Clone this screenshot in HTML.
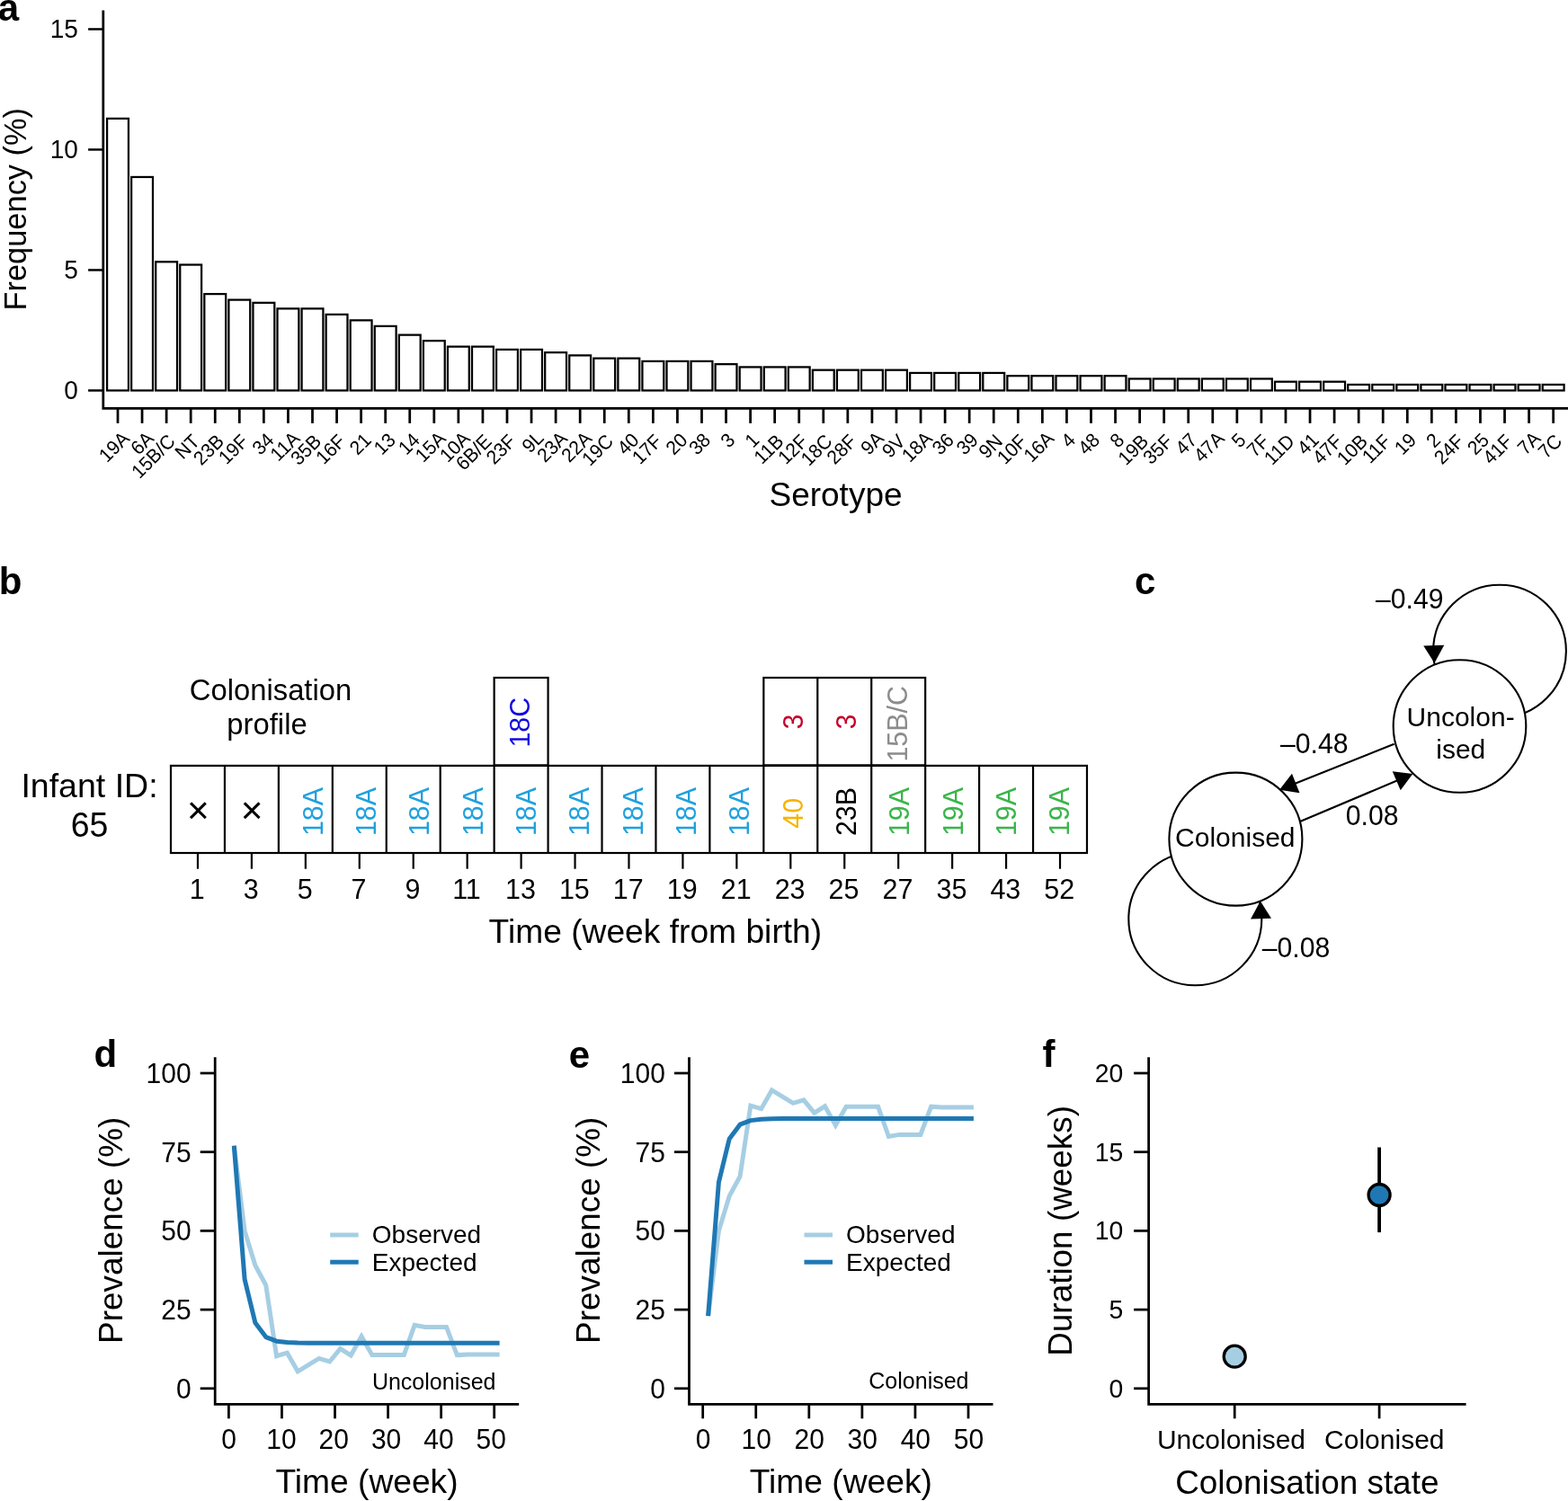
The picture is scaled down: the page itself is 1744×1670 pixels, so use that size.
<!DOCTYPE html>
<html lang="en"><head><meta charset="utf-8"><title>Pneumococcal colonisation figure</title>
<style>html,body{margin:0;padding:0;background:#fff}body{width:1744px;height:1670px;overflow:hidden}svg{display:block}text{font-family:'Liberation Sans', sans-serif}</style>
</head><body>
<svg width="1744" height="1670" viewBox="0 0 1744 1670" font-family='"Liberation Sans", sans-serif'>
<rect width="1744" height="1670" fill="#fff"/>
<g id="panel-a">
<text x="-2.30" y="23.20" font-size="42" text-anchor="start" font-weight="bold">a</text>
<g fill="#fff" stroke="#000" stroke-width="2.25" stroke-linejoin="miter">
<rect x="119.08" y="131.90" width="23.85" height="302.55"/>
<rect x="146.14" y="196.96" width="23.85" height="237.49"/>
<rect x="173.20" y="291.31" width="23.85" height="143.14"/>
<rect x="200.26" y="294.56" width="23.85" height="139.89"/>
<rect x="227.32" y="327.09" width="23.85" height="107.36"/>
<rect x="254.38" y="333.60" width="23.85" height="100.85"/>
<rect x="281.45" y="336.85" width="23.85" height="97.60"/>
<rect x="308.51" y="343.36" width="23.85" height="91.09"/>
<rect x="335.57" y="343.36" width="23.85" height="91.09"/>
<rect x="362.63" y="349.87" width="23.85" height="84.58"/>
<rect x="389.69" y="356.37" width="23.85" height="78.08"/>
<rect x="416.76" y="362.88" width="23.85" height="71.57"/>
<rect x="443.82" y="372.64" width="23.85" height="61.81"/>
<rect x="470.88" y="379.15" width="23.85" height="55.30"/>
<rect x="497.94" y="385.65" width="23.85" height="48.80"/>
<rect x="525.01" y="385.65" width="23.85" height="48.80"/>
<rect x="552.07" y="388.90" width="23.85" height="45.55"/>
<rect x="579.13" y="388.90" width="23.85" height="45.55"/>
<rect x="606.19" y="392.16" width="23.85" height="42.29"/>
<rect x="633.25" y="395.41" width="23.85" height="39.04"/>
<rect x="660.32" y="398.66" width="23.85" height="35.79"/>
<rect x="687.38" y="398.66" width="23.85" height="35.79"/>
<rect x="714.44" y="401.92" width="23.85" height="32.53"/>
<rect x="741.50" y="401.92" width="23.85" height="32.53"/>
<rect x="768.56" y="401.92" width="23.85" height="32.53"/>
<rect x="795.63" y="405.17" width="23.85" height="29.28"/>
<rect x="822.69" y="408.42" width="23.85" height="26.03"/>
<rect x="849.75" y="408.42" width="23.85" height="26.03"/>
<rect x="876.81" y="408.42" width="23.85" height="26.03"/>
<rect x="903.87" y="411.68" width="23.85" height="22.77"/>
<rect x="930.94" y="411.68" width="23.85" height="22.77"/>
<rect x="958.00" y="411.68" width="23.85" height="22.77"/>
<rect x="985.06" y="411.68" width="23.85" height="22.77"/>
<rect x="1012.12" y="414.93" width="23.85" height="19.52"/>
<rect x="1039.18" y="414.93" width="23.85" height="19.52"/>
<rect x="1066.25" y="414.93" width="23.85" height="19.52"/>
<rect x="1093.31" y="414.93" width="23.85" height="19.52"/>
<rect x="1120.37" y="418.18" width="23.85" height="16.27"/>
<rect x="1147.43" y="418.18" width="23.85" height="16.27"/>
<rect x="1174.49" y="418.18" width="23.85" height="16.27"/>
<rect x="1201.56" y="418.18" width="23.85" height="16.27"/>
<rect x="1228.62" y="418.18" width="23.85" height="16.27"/>
<rect x="1255.68" y="421.44" width="23.85" height="13.01"/>
<rect x="1282.74" y="421.44" width="23.85" height="13.01"/>
<rect x="1309.80" y="421.44" width="23.85" height="13.01"/>
<rect x="1336.87" y="421.44" width="23.85" height="13.01"/>
<rect x="1363.93" y="421.44" width="23.85" height="13.01"/>
<rect x="1390.99" y="421.44" width="23.85" height="13.01"/>
<rect x="1418.05" y="424.69" width="23.85" height="9.76"/>
<rect x="1445.11" y="424.69" width="23.85" height="9.76"/>
<rect x="1472.18" y="424.69" width="23.85" height="9.76"/>
<rect x="1499.24" y="427.94" width="23.85" height="6.51"/>
<rect x="1526.30" y="427.94" width="23.85" height="6.51"/>
<rect x="1553.36" y="427.94" width="23.85" height="6.51"/>
<rect x="1580.42" y="427.94" width="23.85" height="6.51"/>
<rect x="1607.49" y="427.94" width="23.85" height="6.51"/>
<rect x="1634.55" y="427.94" width="23.85" height="6.51"/>
<rect x="1661.61" y="427.94" width="23.85" height="6.51"/>
<rect x="1688.67" y="427.94" width="23.85" height="6.51"/>
<rect x="1715.73" y="427.94" width="23.85" height="6.51"/>
</g>
<polyline points="114.8,11.4 114.8,454.4 1744,454.4" fill="none" stroke="#000" stroke-width="2.75" stroke-linejoin="miter"/>
<line x1="98.10" y1="434.45" x2="114.80" y2="434.45" stroke="#000" stroke-width="2.45" />
<text x="0" y="0" font-size="28" text-anchor="end" transform="translate(86.80,444.45) scale(1,1.04)">0</text>
<line x1="98.10" y1="300.45" x2="114.80" y2="300.45" stroke="#000" stroke-width="2.45" />
<text x="0" y="0" font-size="28" text-anchor="end" transform="translate(86.80,310.45) scale(1,1.04)">5</text>
<line x1="98.10" y1="166.45" x2="114.80" y2="166.45" stroke="#000" stroke-width="2.45" />
<text x="0" y="0" font-size="28" text-anchor="end" transform="translate(86.80,176.45) scale(1,1.04)">10</text>
<line x1="98.10" y1="32.45" x2="114.80" y2="32.45" stroke="#000" stroke-width="2.45" />
<text x="0" y="0" font-size="28" text-anchor="end" transform="translate(86.80,42.45) scale(1,1.04)">15</text>
<line x1="131.00" y1="454.40" x2="131.00" y2="470.90" stroke="#000" stroke-width="2.75" />
<text x="0" y="0" font-size="20.9" text-anchor="end" transform="translate(145.35,489.15) rotate(-45) scale(1,1.04)">19A</text>
<line x1="158.06" y1="454.40" x2="158.06" y2="470.90" stroke="#000" stroke-width="2.75" />
<text x="0" y="0" font-size="20.9" text-anchor="end" transform="translate(172.41,489.15) rotate(-45) scale(1,1.04)">6A</text>
<line x1="185.12" y1="454.40" x2="185.12" y2="470.90" stroke="#000" stroke-width="2.75" />
<text x="0" y="0" font-size="20.9" text-anchor="end" transform="translate(196.22,492.40) rotate(-45) scale(1,1.04)">15B/C</text>
<line x1="212.19" y1="454.40" x2="212.19" y2="470.90" stroke="#000" stroke-width="2.75" />
<text x="0" y="0" font-size="20.9" text-anchor="end" transform="translate(223.28,492.40) rotate(-45) scale(1,1.04)">NT</text>
<line x1="239.25" y1="454.40" x2="239.25" y2="470.90" stroke="#000" stroke-width="2.75" />
<text x="0" y="0" font-size="20.9" text-anchor="end" transform="translate(250.34,492.40) rotate(-45) scale(1,1.04)">23B</text>
<line x1="266.31" y1="454.40" x2="266.31" y2="470.90" stroke="#000" stroke-width="2.75" />
<text x="0" y="0" font-size="20.9" text-anchor="end" transform="translate(277.41,492.40) rotate(-45) scale(1,1.04)">19F</text>
<line x1="293.37" y1="454.40" x2="293.37" y2="470.90" stroke="#000" stroke-width="2.75" />
<text x="0" y="0" font-size="20.9" text-anchor="end" transform="translate(305.95,490.92) rotate(-45) scale(1,1.04)">34</text>
<line x1="320.43" y1="454.40" x2="320.43" y2="470.90" stroke="#000" stroke-width="2.75" />
<text x="0" y="0" font-size="20.9" text-anchor="end" transform="translate(334.78,489.15) rotate(-45) scale(1,1.04)">11A</text>
<line x1="347.50" y1="454.40" x2="347.50" y2="470.90" stroke="#000" stroke-width="2.75" />
<text x="0" y="0" font-size="20.9" text-anchor="end" transform="translate(358.59,492.40) rotate(-45) scale(1,1.04)">35B</text>
<line x1="374.56" y1="454.40" x2="374.56" y2="470.90" stroke="#000" stroke-width="2.75" />
<text x="0" y="0" font-size="20.9" text-anchor="end" transform="translate(385.65,492.40) rotate(-45) scale(1,1.04)">16F</text>
<line x1="401.62" y1="454.40" x2="401.62" y2="470.90" stroke="#000" stroke-width="2.75" />
<text x="0" y="0" font-size="20.9" text-anchor="end" transform="translate(414.20,490.92) rotate(-45) scale(1,1.04)">21</text>
<line x1="428.68" y1="454.40" x2="428.68" y2="470.90" stroke="#000" stroke-width="2.75" />
<text x="0" y="0" font-size="20.9" text-anchor="end" transform="translate(441.26,490.92) rotate(-45) scale(1,1.04)">13</text>
<line x1="455.74" y1="454.40" x2="455.74" y2="470.90" stroke="#000" stroke-width="2.75" />
<text x="0" y="0" font-size="20.9" text-anchor="end" transform="translate(468.32,490.92) rotate(-45) scale(1,1.04)">14</text>
<line x1="482.81" y1="454.40" x2="482.81" y2="470.90" stroke="#000" stroke-width="2.75" />
<text x="0" y="0" font-size="20.9" text-anchor="end" transform="translate(497.15,489.15) rotate(-45) scale(1,1.04)">15A</text>
<line x1="509.87" y1="454.40" x2="509.87" y2="470.90" stroke="#000" stroke-width="2.75" />
<text x="0" y="0" font-size="20.9" text-anchor="end" transform="translate(524.22,489.15) rotate(-45) scale(1,1.04)">10A</text>
<line x1="536.93" y1="454.40" x2="536.93" y2="470.90" stroke="#000" stroke-width="2.75" />
<text x="0" y="0" font-size="20.9" text-anchor="end" transform="translate(548.03,492.40) rotate(-45) scale(1,1.04)">6B/E</text>
<line x1="563.99" y1="454.40" x2="563.99" y2="470.90" stroke="#000" stroke-width="2.75" />
<text x="0" y="0" font-size="20.9" text-anchor="end" transform="translate(575.09,492.40) rotate(-45) scale(1,1.04)">23F</text>
<line x1="591.05" y1="454.40" x2="591.05" y2="470.90" stroke="#000" stroke-width="2.75" />
<text x="0" y="0" font-size="20.9" text-anchor="end" transform="translate(605.97,488.59) rotate(-45) scale(1,1.04)">9L</text>
<line x1="618.12" y1="454.40" x2="618.12" y2="470.90" stroke="#000" stroke-width="2.75" />
<text x="0" y="0" font-size="20.9" text-anchor="end" transform="translate(632.46,489.15) rotate(-45) scale(1,1.04)">23A</text>
<line x1="645.18" y1="454.40" x2="645.18" y2="470.90" stroke="#000" stroke-width="2.75" />
<text x="0" y="0" font-size="20.9" text-anchor="end" transform="translate(659.53,489.15) rotate(-45) scale(1,1.04)">22A</text>
<line x1="672.24" y1="454.40" x2="672.24" y2="470.90" stroke="#000" stroke-width="2.75" />
<text x="0" y="0" font-size="20.9" text-anchor="end" transform="translate(683.34,492.40) rotate(-45) scale(1,1.04)">19C</text>
<line x1="699.30" y1="454.40" x2="699.30" y2="470.90" stroke="#000" stroke-width="2.75" />
<text x="0" y="0" font-size="20.9" text-anchor="end" transform="translate(711.88,490.92) rotate(-45) scale(1,1.04)">40</text>
<line x1="726.36" y1="454.40" x2="726.36" y2="470.90" stroke="#000" stroke-width="2.75" />
<text x="0" y="0" font-size="20.9" text-anchor="end" transform="translate(737.46,492.40) rotate(-45) scale(1,1.04)">17F</text>
<line x1="753.43" y1="454.40" x2="753.43" y2="470.90" stroke="#000" stroke-width="2.75" />
<text x="0" y="0" font-size="20.9" text-anchor="end" transform="translate(766.01,490.92) rotate(-45) scale(1,1.04)">20</text>
<line x1="780.49" y1="454.40" x2="780.49" y2="470.90" stroke="#000" stroke-width="2.75" />
<text x="0" y="0" font-size="20.9" text-anchor="end" transform="translate(791.57,490.92) rotate(-45) scale(1,1.04)">38</text>
<line x1="807.55" y1="454.40" x2="807.55" y2="470.90" stroke="#000" stroke-width="2.75" />
<text x="0" y="0" font-size="20.9" text-anchor="end" transform="translate(818.63,490.92) rotate(-45) scale(1,1.04)">3</text>
<line x1="834.61" y1="454.40" x2="834.61" y2="470.90" stroke="#000" stroke-width="2.75" />
<text x="0" y="0" font-size="20.9" text-anchor="end" transform="translate(845.69,490.92) rotate(-45) scale(1,1.04)">1</text>
<line x1="861.67" y1="454.40" x2="861.67" y2="470.90" stroke="#000" stroke-width="2.75" />
<text x="0" y="0" font-size="20.9" text-anchor="end" transform="translate(872.77,492.40) rotate(-45) scale(1,1.04)">11B</text>
<line x1="888.74" y1="454.40" x2="888.74" y2="470.90" stroke="#000" stroke-width="2.75" />
<text x="0" y="0" font-size="20.9" text-anchor="end" transform="translate(899.83,492.40) rotate(-45) scale(1,1.04)">12F</text>
<line x1="915.80" y1="454.40" x2="915.80" y2="470.90" stroke="#000" stroke-width="2.75" />
<text x="0" y="0" font-size="20.9" text-anchor="end" transform="translate(926.89,492.40) rotate(-45) scale(1,1.04)">18C</text>
<line x1="942.86" y1="454.40" x2="942.86" y2="470.90" stroke="#000" stroke-width="2.75" />
<text x="0" y="0" font-size="20.9" text-anchor="end" transform="translate(953.96,492.40) rotate(-45) scale(1,1.04)">28F</text>
<line x1="969.92" y1="454.40" x2="969.92" y2="470.90" stroke="#000" stroke-width="2.75" />
<text x="0" y="0" font-size="20.9" text-anchor="end" transform="translate(984.27,489.15) rotate(-45) scale(1,1.04)">9A</text>
<line x1="996.98" y1="454.40" x2="996.98" y2="470.90" stroke="#000" stroke-width="2.75" />
<text x="0" y="0" font-size="20.9" text-anchor="end" transform="translate(1008.08,492.40) rotate(-45) scale(1,1.04)">9V</text>
<line x1="1024.05" y1="454.40" x2="1024.05" y2="470.90" stroke="#000" stroke-width="2.75" />
<text x="0" y="0" font-size="20.9" text-anchor="end" transform="translate(1038.39,489.15) rotate(-45) scale(1,1.04)">18A</text>
<line x1="1051.11" y1="454.40" x2="1051.11" y2="470.90" stroke="#000" stroke-width="2.75" />
<text x="0" y="0" font-size="20.9" text-anchor="end" transform="translate(1062.19,490.92) rotate(-45) scale(1,1.04)">36</text>
<line x1="1078.17" y1="454.40" x2="1078.17" y2="470.90" stroke="#000" stroke-width="2.75" />
<text x="0" y="0" font-size="20.9" text-anchor="end" transform="translate(1089.25,490.92) rotate(-45) scale(1,1.04)">39</text>
<line x1="1105.23" y1="454.40" x2="1105.23" y2="470.90" stroke="#000" stroke-width="2.75" />
<text x="0" y="0" font-size="20.9" text-anchor="end" transform="translate(1116.33,492.40) rotate(-45) scale(1,1.04)">9N</text>
<line x1="1132.29" y1="454.40" x2="1132.29" y2="470.90" stroke="#000" stroke-width="2.75" />
<text x="0" y="0" font-size="20.9" text-anchor="end" transform="translate(1143.39,492.40) rotate(-45) scale(1,1.04)">10F</text>
<line x1="1159.36" y1="454.40" x2="1159.36" y2="470.90" stroke="#000" stroke-width="2.75" />
<text x="0" y="0" font-size="20.9" text-anchor="end" transform="translate(1173.70,489.15) rotate(-45) scale(1,1.04)">16A</text>
<line x1="1186.42" y1="454.40" x2="1186.42" y2="470.90" stroke="#000" stroke-width="2.75" />
<text x="0" y="0" font-size="20.9" text-anchor="end" transform="translate(1197.50,490.92) rotate(-45) scale(1,1.04)">4</text>
<line x1="1213.48" y1="454.40" x2="1213.48" y2="470.90" stroke="#000" stroke-width="2.75" />
<text x="0" y="0" font-size="20.9" text-anchor="end" transform="translate(1224.56,490.92) rotate(-45) scale(1,1.04)">48</text>
<line x1="1240.54" y1="454.40" x2="1240.54" y2="470.90" stroke="#000" stroke-width="2.75" />
<text x="0" y="0" font-size="20.9" text-anchor="end" transform="translate(1251.62,490.92) rotate(-45) scale(1,1.04)">8</text>
<line x1="1267.60" y1="454.40" x2="1267.60" y2="470.90" stroke="#000" stroke-width="2.75" />
<text x="0" y="0" font-size="20.9" text-anchor="end" transform="translate(1278.70,492.40) rotate(-45) scale(1,1.04)">19B</text>
<line x1="1294.67" y1="454.40" x2="1294.67" y2="470.90" stroke="#000" stroke-width="2.75" />
<text x="0" y="0" font-size="20.9" text-anchor="end" transform="translate(1305.76,492.40) rotate(-45) scale(1,1.04)">35F</text>
<line x1="1321.73" y1="454.40" x2="1321.73" y2="470.90" stroke="#000" stroke-width="2.75" />
<text x="0" y="0" font-size="20.9" text-anchor="end" transform="translate(1332.81,490.92) rotate(-45) scale(1,1.04)">47</text>
<line x1="1348.79" y1="454.40" x2="1348.79" y2="470.90" stroke="#000" stroke-width="2.75" />
<text x="0" y="0" font-size="20.9" text-anchor="end" transform="translate(1363.14,489.15) rotate(-45) scale(1,1.04)">47A</text>
<line x1="1375.85" y1="454.40" x2="1375.85" y2="470.90" stroke="#000" stroke-width="2.75" />
<text x="0" y="0" font-size="20.9" text-anchor="end" transform="translate(1386.93,490.92) rotate(-45) scale(1,1.04)">5</text>
<line x1="1402.91" y1="454.40" x2="1402.91" y2="470.90" stroke="#000" stroke-width="2.75" />
<text x="0" y="0" font-size="20.9" text-anchor="end" transform="translate(1413.01,492.40) rotate(-45) scale(1,1.04)">7F</text>
<line x1="1429.98" y1="454.40" x2="1429.98" y2="470.90" stroke="#000" stroke-width="2.75" />
<text x="0" y="0" font-size="20.9" text-anchor="end" transform="translate(1441.07,492.40) rotate(-45) scale(1,1.04)">11D</text>
<line x1="1457.04" y1="454.40" x2="1457.04" y2="470.90" stroke="#000" stroke-width="2.75" />
<text x="0" y="0" font-size="20.9" text-anchor="end" transform="translate(1468.12,490.92) rotate(-45) scale(1,1.04)">41</text>
<line x1="1484.10" y1="454.40" x2="1484.10" y2="470.90" stroke="#000" stroke-width="2.75" />
<text x="0" y="0" font-size="20.9" text-anchor="end" transform="translate(1494.20,492.40) rotate(-45) scale(1,1.04)">47F</text>
<line x1="1511.16" y1="454.40" x2="1511.16" y2="470.90" stroke="#000" stroke-width="2.75" />
<text x="0" y="0" font-size="20.9" text-anchor="end" transform="translate(1522.26,492.40) rotate(-45) scale(1,1.04)">10B</text>
<line x1="1538.22" y1="454.40" x2="1538.22" y2="470.90" stroke="#000" stroke-width="2.75" />
<text x="0" y="0" font-size="20.9" text-anchor="end" transform="translate(1548.32,492.40) rotate(-45) scale(1,1.04)">11F</text>
<line x1="1565.29" y1="454.40" x2="1565.29" y2="470.90" stroke="#000" stroke-width="2.75" />
<text x="0" y="0" font-size="20.9" text-anchor="end" transform="translate(1576.37,490.92) rotate(-45) scale(1,1.04)">19</text>
<line x1="1592.35" y1="454.40" x2="1592.35" y2="470.90" stroke="#000" stroke-width="2.75" />
<text x="0" y="0" font-size="20.9" text-anchor="end" transform="translate(1603.43,490.92) rotate(-45) scale(1,1.04)">2</text>
<line x1="1619.41" y1="454.40" x2="1619.41" y2="470.90" stroke="#000" stroke-width="2.75" />
<text x="0" y="0" font-size="20.9" text-anchor="end" transform="translate(1629.51,492.40) rotate(-45) scale(1,1.04)">24F</text>
<line x1="1646.47" y1="454.40" x2="1646.47" y2="470.90" stroke="#000" stroke-width="2.75" />
<text x="0" y="0" font-size="20.9" text-anchor="end" transform="translate(1657.55,490.92) rotate(-45) scale(1,1.04)">25</text>
<line x1="1673.53" y1="454.40" x2="1673.53" y2="470.90" stroke="#000" stroke-width="2.75" />
<text x="0" y="0" font-size="20.9" text-anchor="end" transform="translate(1683.63,492.40) rotate(-45) scale(1,1.04)">41F</text>
<line x1="1700.60" y1="454.40" x2="1700.60" y2="470.90" stroke="#000" stroke-width="2.75" />
<text x="0" y="0" font-size="20.9" text-anchor="end" transform="translate(1714.94,489.15) rotate(-45) scale(1,1.04)">7A</text>
<line x1="1727.66" y1="454.40" x2="1727.66" y2="470.90" stroke="#000" stroke-width="2.75" />
<text x="0" y="0" font-size="20.9" text-anchor="end" transform="translate(1738.75,492.40) rotate(-45) scale(1,1.04)">7C</text>
<text x="0" y="0" font-size="34.4" text-anchor="middle" transform="translate(29.00,232.70) rotate(-90)">Frequency (%)</text>
<text x="929.50" y="562.70" font-size="37" text-anchor="middle">Serotype</text>
</g>
<g id="panel-b">
<text x="-1.30" y="660.80" font-size="42" text-anchor="start" font-weight="bold">b</text>
<g fill="none" stroke="#000" stroke-width="2.2">
<rect x="190.0" y="851.9" width="1018.98" height="97.10000000000002"/>
<line x1="249.94" y1="851.9" x2="249.94" y2="949.0"/>
<line x1="309.88" y1="851.9" x2="309.88" y2="949.0"/>
<line x1="369.82" y1="851.9" x2="369.82" y2="949.0"/>
<line x1="429.76" y1="851.9" x2="429.76" y2="949.0"/>
<line x1="489.7" y1="851.9" x2="489.7" y2="949.0"/>
<line x1="549.64" y1="851.9" x2="549.64" y2="949.0"/>
<line x1="609.5799999999999" y1="851.9" x2="609.5799999999999" y2="949.0"/>
<line x1="669.52" y1="851.9" x2="669.52" y2="949.0"/>
<line x1="729.46" y1="851.9" x2="729.46" y2="949.0"/>
<line x1="789.4" y1="851.9" x2="789.4" y2="949.0"/>
<line x1="849.3399999999999" y1="851.9" x2="849.3399999999999" y2="949.0"/>
<line x1="909.28" y1="851.9" x2="909.28" y2="949.0"/>
<line x1="969.22" y1="851.9" x2="969.22" y2="949.0"/>
<line x1="1029.1599999999999" y1="851.9" x2="1029.1599999999999" y2="949.0"/>
<line x1="1089.1" y1="851.9" x2="1089.1" y2="949.0"/>
<line x1="1149.04" y1="851.9" x2="1149.04" y2="949.0"/>
<rect x="549.64" y="754.0" width="59.94" height="97.39999999999998"/>
<rect x="849.3399999999999" y="754.0" width="179.82" height="97.39999999999998"/>
<line x1="909.28" y1="754.0" x2="909.28" y2="851.9"/>
<line x1="969.22" y1="754.0" x2="969.22" y2="851.9"/>
<line x1="219.97" y1="949.0" x2="219.97" y2="966.7"/>
<line x1="279.90999999999997" y1="949.0" x2="279.90999999999997" y2="966.7"/>
<line x1="339.85" y1="949.0" x2="339.85" y2="966.7"/>
<line x1="399.78999999999996" y1="949.0" x2="399.78999999999996" y2="966.7"/>
<line x1="459.73" y1="949.0" x2="459.73" y2="966.7"/>
<line x1="519.67" y1="949.0" x2="519.67" y2="966.7"/>
<line x1="579.61" y1="949.0" x2="579.61" y2="966.7"/>
<line x1="639.55" y1="949.0" x2="639.55" y2="966.7"/>
<line x1="699.49" y1="949.0" x2="699.49" y2="966.7"/>
<line x1="759.43" y1="949.0" x2="759.43" y2="966.7"/>
<line x1="819.37" y1="949.0" x2="819.37" y2="966.7"/>
<line x1="879.31" y1="949.0" x2="879.31" y2="966.7"/>
<line x1="939.25" y1="949.0" x2="939.25" y2="966.7"/>
<line x1="999.1899999999999" y1="949.0" x2="999.1899999999999" y2="966.7"/>
<line x1="1059.13" y1="949.0" x2="1059.13" y2="966.7"/>
<line x1="1119.07" y1="949.0" x2="1119.07" y2="966.7"/>
<line x1="1179.01" y1="949.0" x2="1179.01" y2="966.7"/>
</g>
<text x="0" y="0" font-size="30.5" text-anchor="middle" transform="translate(219.27,1000.20) scale(1,1.04)">1</text>
<text x="0" y="0" font-size="30.5" text-anchor="middle" transform="translate(279.21,1000.20) scale(1,1.04)">3</text>
<text x="0" y="0" font-size="30.5" text-anchor="middle" transform="translate(339.15,1000.20) scale(1,1.04)">5</text>
<text x="0" y="0" font-size="30.5" text-anchor="middle" transform="translate(399.09,1000.20) scale(1,1.04)">7</text>
<text x="0" y="0" font-size="30.5" text-anchor="middle" transform="translate(459.03,1000.20) scale(1,1.04)">9</text>
<text x="0" y="0" font-size="30.5" text-anchor="middle" transform="translate(518.97,1000.20) scale(1,1.04)">11</text>
<text x="0" y="0" font-size="30.5" text-anchor="middle" transform="translate(578.91,1000.20) scale(1,1.04)">13</text>
<text x="0" y="0" font-size="30.5" text-anchor="middle" transform="translate(638.85,1000.20) scale(1,1.04)">15</text>
<text x="0" y="0" font-size="30.5" text-anchor="middle" transform="translate(698.79,1000.20) scale(1,1.04)">17</text>
<text x="0" y="0" font-size="30.5" text-anchor="middle" transform="translate(758.73,1000.20) scale(1,1.04)">19</text>
<text x="0" y="0" font-size="30.5" text-anchor="middle" transform="translate(818.67,1000.20) scale(1,1.04)">21</text>
<text x="0" y="0" font-size="30.5" text-anchor="middle" transform="translate(878.61,1000.20) scale(1,1.04)">23</text>
<text x="0" y="0" font-size="30.5" text-anchor="middle" transform="translate(938.55,1000.20) scale(1,1.04)">25</text>
<text x="0" y="0" font-size="30.5" text-anchor="middle" transform="translate(998.49,1000.20) scale(1,1.04)">27</text>
<text x="0" y="0" font-size="30.5" text-anchor="middle" transform="translate(1058.43,1000.20) scale(1,1.04)">35</text>
<text x="0" y="0" font-size="30.5" text-anchor="middle" transform="translate(1118.37,1000.20) scale(1,1.04)">43</text>
<text x="0" y="0" font-size="30.5" text-anchor="middle" transform="translate(1178.31,1000.20) scale(1,1.04)">52</text>
<text x="220.27" y="916.35" font-size="42.4" text-anchor="middle">×</text>
<text x="280.21" y="916.35" font-size="42.4" text-anchor="middle">×</text>
<text x="0" y="0" font-size="30.4" text-anchor="middle" fill="#1fa1dd" transform="translate(358.61,903.05) rotate(-90) scale(1,1.04)">18A</text>
<text x="0" y="0" font-size="30.4" text-anchor="middle" fill="#1fa1dd" transform="translate(417.94,903.05) rotate(-90) scale(1,1.04)">18A</text>
<text x="0" y="0" font-size="30.4" text-anchor="middle" fill="#1fa1dd" transform="translate(477.27,903.05) rotate(-90) scale(1,1.04)">18A</text>
<text x="0" y="0" font-size="30.4" text-anchor="middle" fill="#1fa1dd" transform="translate(536.60,903.05) rotate(-90) scale(1,1.04)">18A</text>
<text x="0" y="0" font-size="30.4" text-anchor="middle" fill="#1fa1dd" transform="translate(595.93,903.05) rotate(-90) scale(1,1.04)">18A</text>
<text x="0" y="0" font-size="30.4" text-anchor="middle" fill="#1fa1dd" transform="translate(655.26,903.05) rotate(-90) scale(1,1.04)">18A</text>
<text x="0" y="0" font-size="30.4" text-anchor="middle" fill="#1fa1dd" transform="translate(714.59,903.05) rotate(-90) scale(1,1.04)">18A</text>
<text x="0" y="0" font-size="30.4" text-anchor="middle" fill="#1fa1dd" transform="translate(773.92,903.05) rotate(-90) scale(1,1.04)">18A</text>
<text x="0" y="0" font-size="30.4" text-anchor="middle" fill="#1fa1dd" transform="translate(833.25,903.05) rotate(-90) scale(1,1.04)">18A</text>
<text x="0" y="0" font-size="30.4" text-anchor="middle" fill="#f6b400" transform="translate(892.58,904.85) rotate(-90) scale(1,1.04)">40</text>
<text x="0" y="0" font-size="30.4" text-anchor="middle" transform="translate(951.91,903.05) rotate(-90) scale(1,1.04)">23B</text>
<text x="0" y="0" font-size="30.4" text-anchor="middle" fill="#3ab54a" transform="translate(1011.24,903.05) rotate(-90) scale(1,1.04)">19A</text>
<text x="0" y="0" font-size="30.4" text-anchor="middle" fill="#3ab54a" transform="translate(1070.57,903.05) rotate(-90) scale(1,1.04)">19A</text>
<text x="0" y="0" font-size="30.4" text-anchor="middle" fill="#3ab54a" transform="translate(1129.90,903.05) rotate(-90) scale(1,1.04)">19A</text>
<text x="0" y="0" font-size="30.4" text-anchor="middle" fill="#3ab54a" transform="translate(1189.23,903.05) rotate(-90) scale(1,1.04)">19A</text>
<text x="0" y="0" font-size="30.4" text-anchor="middle" fill="#1209de" transform="translate(589.40,803.75) rotate(-90) scale(1,1.04)">18C</text>
<text x="0" y="0" font-size="30.4" text-anchor="middle" fill="#c4002c" transform="translate(892.58,802.95) rotate(-90) scale(1,1.04)">3</text>
<text x="0" y="0" font-size="30.4" text-anchor="middle" fill="#c4002c" transform="translate(951.91,802.95) rotate(-90) scale(1,1.04)">3</text>
<text x="0" y="0" font-size="30.4" text-anchor="middle" fill="#8c8c8c" transform="translate(1009.44,805.35) rotate(-90) scale(1,1.04)">15B/C</text>
<text x="301.00" y="778.80" font-size="32.8" text-anchor="middle">Colonisation</text>
<text x="297.00" y="817.30" font-size="32.8" text-anchor="middle">profile</text>
<text x="99.50" y="886.70" font-size="37.5" text-anchor="middle">Infant ID:</text>
<text x="0" y="0" font-size="37.5" text-anchor="middle" transform="translate(99.50,930.50) scale(1,1.04)">65</text>
<text x="728.90" y="1049.00" font-size="37.2" text-anchor="middle">Time (week from birth)</text>
</g>
<g id="panel-c">
<text x="1262.00" y="660.50" font-size="42" text-anchor="start" font-weight="bold">c</text>
<circle cx="1668.0" cy="724.6" r="73.9" fill="none" stroke="#000" stroke-width="2.1"/>
<circle cx="1329.3" cy="1022.3" r="74.0" fill="none" stroke="#000" stroke-width="2.1"/>
<circle cx="1623.5" cy="808.0" r="73.8" fill="#fff" stroke="#000" stroke-width="2.1"/>
<circle cx="1374.4" cy="933.6" r="74.0" fill="#fff" stroke="#000" stroke-width="2.1"/>
<line x1="1550.66" y1="827.78" x2="1432.33" y2="875.06" stroke="#000" stroke-width="2.1" />
<polygon points="1423.04,878.77 1436.98,860.82 1445.51,882.18" fill="#000"/>
<line x1="1446.62" y1="913.84" x2="1562.08" y2="864.98" stroke="#000" stroke-width="2.1" />
<polygon points="1571.29,861.08 1557.72,879.31 1548.76,858.13" fill="#000"/>
<polygon points="1595.46,737.74 1583.28,718.56 1606.27,717.75" fill="#000"/>
<polygon points="1401.82,1002.55 1414.00,1021.74 1391.02,1022.54" fill="#000"/>
<text x="0" y="0" font-size="30.2" text-anchor="middle" transform="translate(1567.70,677.00) scale(1,1.04)">–0.49</text>
<text x="0" y="0" font-size="30.2" text-anchor="middle" transform="translate(1461.70,838.00) scale(1,1.04)">–0.48</text>
<text x="0" y="0" font-size="30.2" text-anchor="middle" transform="translate(1526.20,918.40) scale(1,1.04)">0.08</text>
<text x="0" y="0" font-size="30.2" text-anchor="middle" transform="translate(1441.50,1064.60) scale(1,1.04)">–0.08</text>
<text x="1624.60" y="807.70" font-size="30" text-anchor="middle">Uncolon-</text>
<text x="1624.80" y="844.10" font-size="30" text-anchor="middle">ised</text>
<text x="1373.80" y="942.30" font-size="30" text-anchor="middle">Colonised</text>
</g>
<text x="104.50" y="1187.00" font-size="42" text-anchor="start" font-weight="bold">d</text>
<g id="panel-d">
<polyline points="260.31,1274.68 272.12,1369.40 283.93,1407.99 295.74,1429.74 307.55,1508.67 319.37,1505.16 331.18,1525.86 342.99,1518.67 354.80,1511.47 366.61,1514.98 378.43,1500.60 390.24,1507.97 402.05,1486.92 413.86,1507.62 425.67,1507.62 437.49,1507.62 449.30,1507.62 461.11,1474.29 472.92,1476.39 484.73,1476.39 496.55,1476.39 508.36,1507.62 520.17,1506.91 531.98,1506.91 543.79,1506.91 555.61,1506.91" fill="none" stroke="#a6cee3" stroke-width="5" stroke-linejoin="miter"/>
<polyline points="260.31,1274.68 272.12,1423.42 283.93,1471.83 295.74,1487.62 307.55,1492.18 319.37,1493.58 331.18,1494.11 342.99,1494.28 354.80,1494.28 366.61,1494.28 378.43,1494.28 390.24,1494.28 402.05,1494.28 413.86,1494.28 425.67,1494.28 437.49,1494.28 449.30,1494.28 461.11,1494.28 472.92,1494.28 484.73,1494.28 496.55,1494.28 508.36,1494.28 520.17,1494.28 531.98,1494.28 543.79,1494.28 555.61,1494.28" fill="none" stroke="#1f78b4" stroke-width="5" stroke-linejoin="round"/>
<polyline points="239.20,1176.3 239.20,1562.3 577.20,1562.3" fill="none" stroke="#000" stroke-width="2.75"/>
<line x1="222.70" y1="1544.80" x2="239.20" y2="1544.80" stroke="#000" stroke-width="2.75" />
<text x="0" y="0" font-size="30" text-anchor="end" transform="translate(212.60,1555.70) scale(1,1.04)">0</text>
<line x1="222.70" y1="1457.10" x2="239.20" y2="1457.10" stroke="#000" stroke-width="2.75" />
<text x="0" y="0" font-size="30" text-anchor="end" transform="translate(212.60,1468.00) scale(1,1.04)">25</text>
<line x1="222.70" y1="1369.40" x2="239.20" y2="1369.40" stroke="#000" stroke-width="2.75" />
<text x="0" y="0" font-size="30" text-anchor="end" transform="translate(212.60,1380.30) scale(1,1.04)">50</text>
<line x1="222.70" y1="1281.70" x2="239.20" y2="1281.70" stroke="#000" stroke-width="2.75" />
<text x="0" y="0" font-size="30" text-anchor="end" transform="translate(212.60,1292.60) scale(1,1.04)">75</text>
<line x1="222.70" y1="1194.00" x2="239.20" y2="1194.00" stroke="#000" stroke-width="2.75" />
<text x="0" y="0" font-size="30" text-anchor="end" transform="translate(212.60,1204.90) scale(1,1.04)">100</text>
<line x1="254.40" y1="1562.30" x2="254.40" y2="1578.30" stroke="#000" stroke-width="2.75" />
<text x="0" y="0" font-size="30" text-anchor="middle" transform="translate(254.60,1612.00) scale(1,1.04)">0</text>
<line x1="313.46" y1="1562.30" x2="313.46" y2="1578.30" stroke="#000" stroke-width="2.75" />
<text x="0" y="0" font-size="30" text-anchor="middle" transform="translate(312.94,1612.00) scale(1,1.04)">10</text>
<line x1="372.52" y1="1562.30" x2="372.52" y2="1578.30" stroke="#000" stroke-width="2.75" />
<text x="0" y="0" font-size="30" text-anchor="middle" transform="translate(371.28,1612.00) scale(1,1.04)">20</text>
<line x1="431.58" y1="1562.30" x2="431.58" y2="1578.30" stroke="#000" stroke-width="2.75" />
<text x="0" y="0" font-size="30" text-anchor="middle" transform="translate(429.62,1612.00) scale(1,1.04)">30</text>
<line x1="490.64" y1="1562.30" x2="490.64" y2="1578.30" stroke="#000" stroke-width="2.75" />
<text x="0" y="0" font-size="30" text-anchor="middle" transform="translate(487.96,1612.00) scale(1,1.04)">40</text>
<line x1="549.70" y1="1562.30" x2="549.70" y2="1578.30" stroke="#000" stroke-width="2.75" />
<text x="0" y="0" font-size="30" text-anchor="middle" transform="translate(546.30,1612.00) scale(1,1.04)">50</text>
<text x="0" y="0" font-size="36.9" text-anchor="middle" transform="translate(136.40,1368.80) rotate(-90)">Prevalence (%)</text>
<text x="408.00" y="1661.30" font-size="37.2" text-anchor="middle">Time (week)</text>
<line x1="367.20" y1="1374.00" x2="398.70" y2="1374.00" stroke="#a6cee3" stroke-width="5" />
<line x1="367.20" y1="1404.20" x2="398.70" y2="1404.20" stroke="#1f78b4" stroke-width="5" />
<text x="413.80" y="1383.40" font-size="28" text-anchor="start">Observed</text>
<text x="413.80" y="1414.10" font-size="28" text-anchor="start">Expected</text>
<text x="551.50" y="1545.50" font-size="25" text-anchor="end">Uncolonised</text>
</g>
<text x="632.80" y="1187.80" font-size="42" text-anchor="start" font-weight="bold">e</text>
<g id="panel-e">
<polyline points="787.61,1464.12 799.42,1369.40 811.23,1330.81 823.04,1309.06 834.85,1230.13 846.67,1233.64 858.48,1212.94 870.29,1220.13 882.10,1227.33 893.91,1223.82 905.73,1238.20 917.54,1230.83 929.35,1251.88 941.16,1231.18 952.97,1231.18 964.79,1231.18 976.60,1231.18 988.41,1264.51 1000.22,1262.41 1012.03,1262.41 1023.85,1262.41 1035.66,1231.18 1047.47,1231.89 1059.28,1231.89 1071.09,1231.89 1082.91,1231.89" fill="none" stroke="#a6cee3" stroke-width="5" stroke-linejoin="miter"/>
<polyline points="787.61,1464.12 799.42,1315.38 811.23,1266.97 823.04,1251.18 834.85,1246.62 846.67,1245.22 858.48,1244.69 870.29,1244.52 882.10,1244.52 893.91,1244.52 905.73,1244.52 917.54,1244.52 929.35,1244.52 941.16,1244.52 952.97,1244.52 964.79,1244.52 976.60,1244.52 988.41,1244.52 1000.22,1244.52 1012.03,1244.52 1023.85,1244.52 1035.66,1244.52 1047.47,1244.52 1059.28,1244.52 1071.09,1244.52 1082.91,1244.52" fill="none" stroke="#1f78b4" stroke-width="5" stroke-linejoin="round"/>
<polyline points="766.50,1176.3 766.50,1562.3 1104.50,1562.3" fill="none" stroke="#000" stroke-width="2.75"/>
<line x1="750.00" y1="1544.80" x2="766.50" y2="1544.80" stroke="#000" stroke-width="2.75" />
<text x="0" y="0" font-size="30" text-anchor="end" transform="translate(739.90,1555.70) scale(1,1.04)">0</text>
<line x1="750.00" y1="1457.10" x2="766.50" y2="1457.10" stroke="#000" stroke-width="2.75" />
<text x="0" y="0" font-size="30" text-anchor="end" transform="translate(739.90,1468.00) scale(1,1.04)">25</text>
<line x1="750.00" y1="1369.40" x2="766.50" y2="1369.40" stroke="#000" stroke-width="2.75" />
<text x="0" y="0" font-size="30" text-anchor="end" transform="translate(739.90,1380.30) scale(1,1.04)">50</text>
<line x1="750.00" y1="1281.70" x2="766.50" y2="1281.70" stroke="#000" stroke-width="2.75" />
<text x="0" y="0" font-size="30" text-anchor="end" transform="translate(739.90,1292.60) scale(1,1.04)">75</text>
<line x1="750.00" y1="1194.00" x2="766.50" y2="1194.00" stroke="#000" stroke-width="2.75" />
<text x="0" y="0" font-size="30" text-anchor="end" transform="translate(739.90,1204.90) scale(1,1.04)">100</text>
<line x1="781.70" y1="1562.30" x2="781.70" y2="1578.30" stroke="#000" stroke-width="2.75" />
<text x="0" y="0" font-size="30" text-anchor="middle" transform="translate(782.10,1612.00) scale(1,1.04)">0</text>
<line x1="840.76" y1="1562.30" x2="840.76" y2="1578.30" stroke="#000" stroke-width="2.75" />
<text x="0" y="0" font-size="30" text-anchor="middle" transform="translate(841.16,1612.00) scale(1,1.04)">10</text>
<line x1="899.82" y1="1562.30" x2="899.82" y2="1578.30" stroke="#000" stroke-width="2.75" />
<text x="0" y="0" font-size="30" text-anchor="middle" transform="translate(900.22,1612.00) scale(1,1.04)">20</text>
<line x1="958.88" y1="1562.30" x2="958.88" y2="1578.30" stroke="#000" stroke-width="2.75" />
<text x="0" y="0" font-size="30" text-anchor="middle" transform="translate(959.28,1612.00) scale(1,1.04)">30</text>
<line x1="1017.94" y1="1562.30" x2="1017.94" y2="1578.30" stroke="#000" stroke-width="2.75" />
<text x="0" y="0" font-size="30" text-anchor="middle" transform="translate(1018.34,1612.00) scale(1,1.04)">40</text>
<line x1="1077.00" y1="1562.30" x2="1077.00" y2="1578.30" stroke="#000" stroke-width="2.75" />
<text x="0" y="0" font-size="30" text-anchor="middle" transform="translate(1077.40,1612.00) scale(1,1.04)">50</text>
<text x="0" y="0" font-size="36.9" text-anchor="middle" transform="translate(666.90,1368.80) rotate(-90)">Prevalence (%)</text>
<text x="935.30" y="1661.30" font-size="37.2" text-anchor="middle">Time (week)</text>
<line x1="894.50" y1="1374.00" x2="926.00" y2="1374.00" stroke="#a6cee3" stroke-width="5" />
<line x1="894.50" y1="1404.20" x2="926.00" y2="1404.20" stroke="#1f78b4" stroke-width="5" />
<text x="941.10" y="1382.50" font-size="28" text-anchor="start">Observed</text>
<text x="941.10" y="1413.60" font-size="28" text-anchor="start">Expected</text>
<text x="1077.50" y="1544.50" font-size="25" text-anchor="end">Colonised</text>
</g>
<g id="panel-f">
<text x="1159.60" y="1187.00" font-size="42" text-anchor="start" font-weight="bold">f</text>
<polyline points="1277.6,1176.3 1277.6,1562.3 1630.6,1562.3" fill="none" stroke="#000" stroke-width="2.75"/>
<line x1="1261.10" y1="1544.80" x2="1277.60" y2="1544.80" stroke="#000" stroke-width="2.75" />
<text x="0" y="0" font-size="28.3" text-anchor="end" transform="translate(1249.20,1554.60) scale(1,1.04)">0</text>
<line x1="1261.10" y1="1457.10" x2="1277.60" y2="1457.10" stroke="#000" stroke-width="2.75" />
<text x="0" y="0" font-size="28.3" text-anchor="end" transform="translate(1249.20,1466.90) scale(1,1.04)">5</text>
<line x1="1261.10" y1="1369.40" x2="1277.60" y2="1369.40" stroke="#000" stroke-width="2.75" />
<text x="0" y="0" font-size="28.3" text-anchor="end" transform="translate(1249.20,1379.20) scale(1,1.04)">10</text>
<line x1="1261.10" y1="1281.70" x2="1277.60" y2="1281.70" stroke="#000" stroke-width="2.75" />
<text x="0" y="0" font-size="28.3" text-anchor="end" transform="translate(1249.20,1291.50) scale(1,1.04)">15</text>
<line x1="1261.10" y1="1194.00" x2="1277.60" y2="1194.00" stroke="#000" stroke-width="2.75" />
<text x="0" y="0" font-size="28.3" text-anchor="end" transform="translate(1249.20,1203.80) scale(1,1.04)">20</text>
<line x1="1373.20" y1="1562.30" x2="1373.20" y2="1578.30" stroke="#000" stroke-width="2.75" />
<line x1="1534.10" y1="1562.30" x2="1534.10" y2="1578.30" stroke="#000" stroke-width="2.75" />
<text x="1369.50" y="1611.80" font-size="30" text-anchor="middle">Uncolonised</text>
<text x="1539.80" y="1611.80" font-size="30" text-anchor="middle">Colonised</text>
<text x="0" y="0" font-size="36.9" text-anchor="middle" transform="translate(1191.80,1369.40) rotate(-90)">Duration (weeks)</text>
<text x="1453.80" y="1662.30" font-size="36.9" text-anchor="middle">Colonisation state</text>
<line x1="1534.10" y1="1276.50" x2="1534.10" y2="1371.10" stroke="#000" stroke-width="3.8" />
<circle cx="1373.2" cy="1509.2" r="12.0" fill="#a6cee3" stroke="#000" stroke-width="3.3"/>
<circle cx="1534.1" cy="1329.5" r="12.0" fill="#1f78b4" stroke="#000" stroke-width="3.3"/>
</g>
</svg></body></html>
